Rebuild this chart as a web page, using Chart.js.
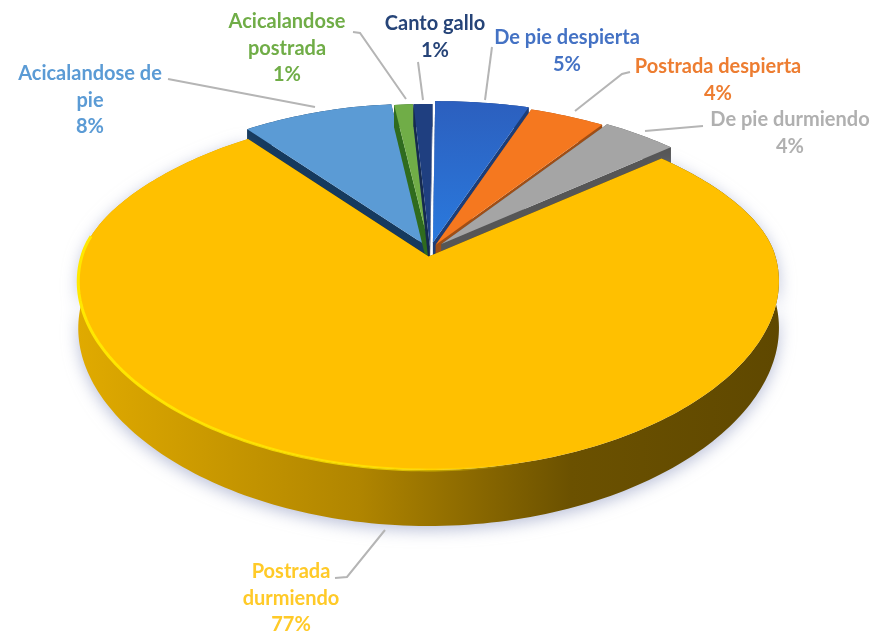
<!DOCTYPE html>
<html lang="es">
<head>
<meta charset="utf-8">
<title>Conducta</title>
<script src="https://cdn.jsdelivr.net/npm/chart.js@4/dist/chart.umd.js"></script>
<style>
    html, body { margin: 0; padding: 0; background: #fff; }
    canvas { display: block; }
</style>
</head>
<body>
<canvas id="behaviourChart" width="875" height="637"></canvas>
<script>
// Datos del grafico
const categories = ['De pie despierta', 'Postrada despierta', 'De pie durmiendo', 'Postrada durmiendo', 'Acicalandose de pie', 'Acicalandose postrada', 'Canto gallo'];
const shares = [5, 4, 4, 77, 8, 1, 1];

const topColors = ['#2f66c4', '#f5781f', '#a5a5a5', '#ffc000', '#5b9bd5', '#70ad47', '#1f3f80'];
const wallColors = ['#1c3d78', '#a04e15', '#565656', '#5f4800', '#163a5e', '#2f6b1e', '#152a50'];
const labelColors = ['#4472c4', '#ed7d31', '#b0b0b0', '#ffca28', '#5b9bd5', '#70ad47', '#264478'];

// Etiquetas: centro, primera linea y ancho maximo antes de partir el texto
const labelSpots = [
    { x: 567, y: 38, wrap: 200 },
    { x: 718, y: 67, wrap: 220 },
    { x: 790, y: 120, wrap: 200 },
    { x: 291, y: 572, wrap: 110 },
    { x: 90, y: 74, wrap: 160 },
    { x: 287, y: 22, wrap: 130 },
    { x: 435, y: 24, wrap: 200 }
];
const leaderLines = [
    [[492, 47], [485, 100]],
    [[630, 72], [622, 74], [575, 111]],
    [[703, 126], [645, 131]],
    [[385, 530], [347, 577], [335, 578]],
    [[168, 79], [315, 107]],
    [[353, 32], [360, 33], [406, 99]],
    [[418, 62], [423, 100]]
];

// Camara de la tarta en perspectiva
const view = { cx: 430, cy: 250, a: 170, b: 345, ky: 0.19, kx: 0.14, flatten: 6, depth: 45 };

function project(u, v, h) {
    const wy = 1 - view.ky * v;
    const wx = 1 - view.kx * v;
    // el fondo del disco queda algo mas aplanado que el frente
    const back = v < 0 ? view.flatten * Math.sin(Math.PI * Math.min(-v, 1)) : 0;
    return [view.cx + view.b * u / wx, view.cy + view.a * v / wy + back + h * view.depth / wy];
}

function tracePoints(ctx, points) {
    points.forEach((p, i) => (i ? ctx.lineTo(p[0], p[1]) : ctx.moveTo(p[0], p[1])));
}

// Pasa un ArcElement al plano de la tarta
function sliceGeometry(arc) {
    const R = arc.outerRadius;
    const mid = (arc.startAngle + arc.endAngle) / 2;
    const off = (arc.options.offset || 0) / R;
    const ox = Math.cos(mid) * off;
    const oy = Math.sin(mid) * off;
    const rim = [];
    const steps = Math.max(4, Math.ceil((arc.endAngle - arc.startAngle) / 0.02));
    for (let i = 0; i <= steps; i++) {
        const t = arc.startAngle + (arc.endAngle - arc.startAngle) * i / steps;
        rim.push([ox + Math.cos(t), oy + Math.sin(t)]);
    }
    return { tip: [ox, oy], rim };
}

function drawSlice(ctx, arc, index) {
    const { tip, rim } = sliceGeometry(arc);
    const big = index === 3;
    const h = big ? 1 : 0.6; // las porciones del fondo se ven con pared mas baja
    const top = rim.map(p => project(p[0], p[1], 0));
    const bottom = rim.map(p => project(p[0], p[1], h));
    const tipTop = project(tip[0], tip[1], 0);
    const tipBottom = project(tip[0], tip[1], h);

    // paredes rectas
    ctx.fillStyle = wallColors[index];
    [top[0], top[top.length - 1]].forEach((corner, i) => {
        const low = i ? bottom[bottom.length - 1] : bottom[0];
        ctx.beginPath();
        tracePoints(ctx, [tipTop, corner, low, tipBottom]);
        ctx.closePath();
        ctx.fill();
    });

    // pared curva
    ctx.save();
    if (big) {
        const side = ctx.createLinearGradient(78, 0, 782, 0);
        side.addColorStop(0, '#e0aa00');
        side.addColorStop(0.4, '#b08500');
        side.addColorStop(0.7, '#6b5100');
        side.addColorStop(1, '#5f4800');
        ctx.fillStyle = side;
        ctx.shadowColor = 'rgba(140, 150, 190, 0.6)';
        ctx.shadowBlur = 16;
        ctx.shadowOffsetY = 4;
    }
    ctx.beginPath();
    tracePoints(ctx, top.concat(bottom.slice().reverse()));
    ctx.closePath();
    ctx.fill();
    ctx.restore();

    // cara superior
    if (index === 0) {
        const face = ctx.createLinearGradient(0, 100, 0, 245);
        face.addColorStop(0, '#2c5fbe');
        face.addColorStop(1, '#2a7ade');
        ctx.fillStyle = face;
    } else {
        ctx.fillStyle = topColors[index];
    }
    ctx.beginPath();
    tracePoints(ctx, [tipTop].concat(top));
    ctx.closePath();
    ctx.fill();

    // brillo del borde, solo en el frente izquierdo de la porcion grande
    if (big) {
        const shine = ctx.createLinearGradient(78, 0, 520, 0);
        shine.addColorStop(0, 'rgba(255, 232, 0, 1)');
        shine.addColorStop(0.7, 'rgba(255, 232, 0, 0.7)');
        shine.addColorStop(1, 'rgba(255, 232, 0, 0)');
        ctx.strokeStyle = shine;
        ctx.lineWidth = 3;
        ctx.beginPath();
        tracePoints(ctx, top.filter((p, i) => rim[i][1] > -0.1));
        ctx.stroke();
    }
}

function wrapText(ctx, text, maxWidth) {
    const lines = [];
    let line = '';
    text.split(' ').forEach(word => {
        const next = line ? line + ' ' + word : word;
        if (ctx.measureText(next).width > maxWidth && line) {
            lines.push(line);
            line = word;
        } else {
            line = next;
        }
    });
    lines.push(line);
    return lines;
}

const pie3d = {
    id: 'pie3d',
    beforeDatasetsDraw(chart) {
        const ctx = chart.ctx;
        const arcs = chart.getDatasetMeta(0).data;
        // la porcion grande va al frente, tapa las paredes de las demas
        [0, 1, 2, 4, 5, 6, 3].forEach(i => drawSlice(ctx, arcs[i], i));
        return false;
    },
    afterDraw(chart) {
        const ctx = chart.ctx;
        const total = shares.reduce((sum, n) => sum + n, 0);
        ctx.save();
        ctx.strokeStyle = '#b5b5b5';
        ctx.lineWidth = 2;
        leaderLines.forEach(line => {
            ctx.beginPath();
            tracePoints(ctx, line);
            ctx.stroke();
        });
        ctx.font = 'bold 20px Lato';
        ctx.textAlign = 'center';
        ctx.textBaseline = 'middle';
        categories.forEach((name, i) => {
            const spot = labelSpots[i];
            const lines = wrapText(ctx, name, spot.wrap);
            lines.push(Math.round(shares[i] / total * 100) + '%');
            ctx.fillStyle = labelColors[i];
            lines.forEach((text, n) => ctx.fillText(text, spot.x, spot.y + n * 26.5));
        });
        ctx.restore();
    }
};

new Chart(document.getElementById('behaviourChart'), {
    type: 'pie',
    data: {
        labels: categories,
        datasets: [{
            data: shares,
            backgroundColor: topColors,
            borderWidth: 0,
            offset: [16, 12, 16, 12, 10, 8, 8]
        }]
    },
    options: {
        responsive: false,
        animation: false,
        events: [],
        rotation: 0.5,
        plugins: {
            legend: { display: false },
            tooltip: { enabled: false }
        }
    },
    plugins: [pie3d]
});
</script>
</body>
</html>
